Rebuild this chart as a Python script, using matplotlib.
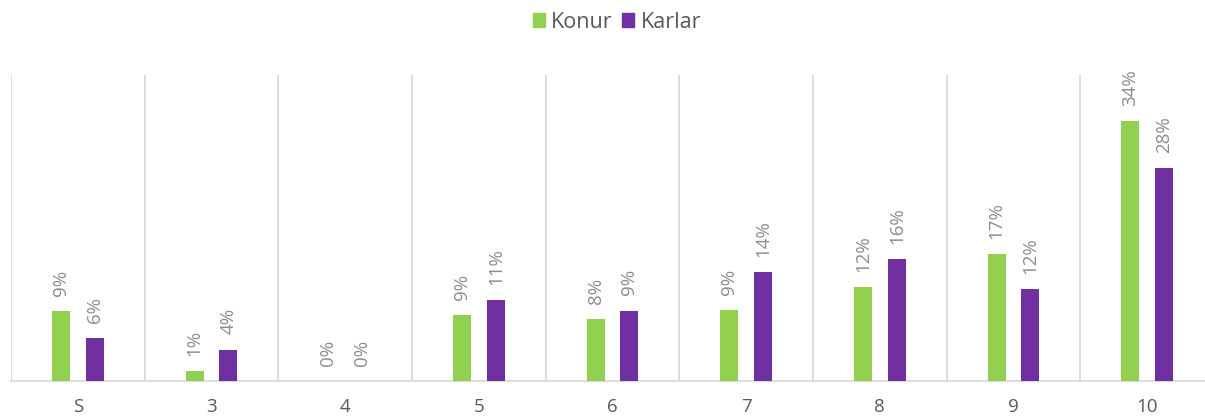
import numpy as np
import matplotlib
matplotlib.use("Agg")
import matplotlib.pyplot as plt
from matplotlib.patches import Patch

categories = ["S", "3", "4", "5", "6", "7", "8", "9", "10"]
konur = [0.091, 0.013, 0.0, 0.086, 0.081, 0.093, 0.123, 0.166, 0.340]
karlar = [0.056, 0.041, 0.0, 0.106, 0.092, 0.142, 0.159, 0.120, 0.278]

GREEN = "#92D050"
PURPLE = "#7030A0"
GRID = "#D9D9D9"
plt.rcParams["font.family"] = ["Open Sans", "DejaVu Sans"]

def main():
    fig = plt.figure(figsize=(12.05, 4.17), dpi=100)
    # plot area runs past the right edge, as in the reference
    ax = fig.add_axes([11 / 1205, 1 - 381 / 417, 1203 / 1205, 306 / 417])
    x = np.arange(len(categories))
    w = 0.135
    off = 0.127
    ax.bar(x - off, konur, w, color=GREEN, zorder=3)
    ax.bar(x + off, karlar, w, color=PURPLE, zorder=3)
    for xs, vals in ((x - off, konur), (x + off, karlar)):
        for xi, v in zip(xs, vals):
            ax.annotate(f"{round(v * 100):d}%", (xi, v), xytext=(0, 11), textcoords="offset points",
                        rotation=90, ha="center", va="bottom", fontsize=13.5, color="#8C8C8C")
    ax.set_xlim(-0.5, len(categories) - 0.5)
    ax.set_ylim(0, 0.40)
    ax.set_xticks(x)
    ax.set_xticklabels(categories, fontsize=13.5, color="#595959")
    ax.set_xticks(np.arange(len(categories) + 1) - 0.5, minor=True)
    ax.tick_params(axis="x", which="both", length=0, pad=12)
    ax.set_yticks([])
    ax.grid(axis="x", which="minor", color=GRID, linewidth=1.3, zorder=0)
    for s in ("top", "right", "left"):
        ax.spines[s].set_visible(False)
    ax.spines["bottom"].set_color(GRID)
    ax.spines["bottom"].set_linewidth(1.3)

    handles = [Patch(color=GREEN, label="Konur"), Patch(color=PURPLE, label="Karlar")]
    fig.legend(handles=handles, loc="center", bbox_to_anchor=(617 / 1205, 1 - 22 / 417), ncol=2,
               frameon=False, fontsize=15.5, labelcolor="#595959", handlelength=0.55, handleheight=0.6,
               handletextpad=0.3, columnspacing=0.45)
    fig.savefig("out.png", dpi=100)

if __name__ == "__main__":
    main()
